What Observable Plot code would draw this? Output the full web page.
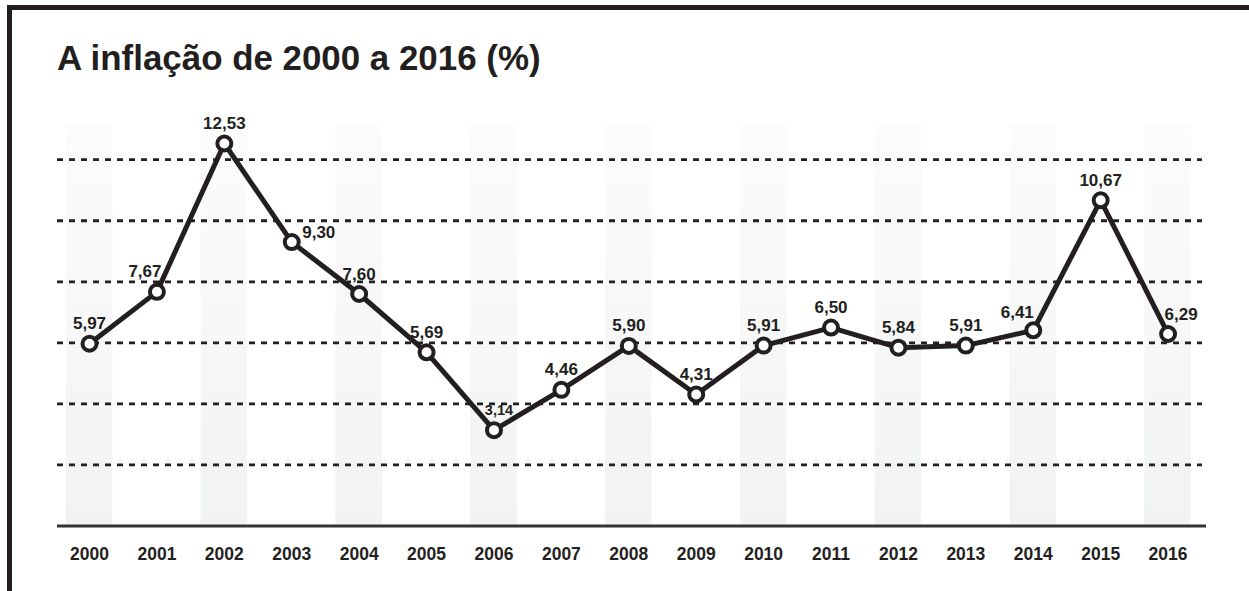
<!DOCTYPE html>
<html>
<head>
<meta charset="utf-8">
<script src="https://cdn.jsdelivr.net/npm/d3@7"></script>
<script src="https://cdn.jsdelivr.net/npm/@observablehq/plot@0.6"></script>
<style>
  html, body { margin: 0; padding: 0; background: #fff; }
  body { width: 1249px; height: 591px; overflow: hidden; position: relative; font-family: "Liberation Sans", Arial, sans-serif; }
  #frame { position: absolute; left: 7px; top: 5px; right: 0; bottom: 0; border-top: 5px solid #231f20; border-left: 5px solid #231f20; z-index: 2; pointer-events: none; }
  #title { position: absolute; left: 57px; top: 40.5px; font-size: 34.9px; line-height: 34.9px; font-weight: bold; color: #231f20; white-space: nowrap; z-index: 3; }
  #chart { position: absolute; left: 0; top: 100px; z-index: 1; }
  #chart svg { background: transparent; }
</style>
</head>
<body>
<div id="frame"></div>
<div id="title">A inflação de 2000 a 2016 (%)</div>
<div id="chart"></div>
<script>
// ---- data ----
const years = [2000, 2001, 2002, 2003, 2004, 2005, 2006, 2007, 2008, 2009, 2010, 2011, 2012, 2013, 2014, 2015, 2016];
const inflation = [5.97, 7.67, 12.53, 9.30, 7.60, 5.69, 3.14, 4.46, 5.90, 4.31, 5.91, 6.50, 5.84, 5.91, 6.41, 10.67, 6.29];
const gridValues = [2, 4, 6, 8, 10, 12];
const shadedYears = years.filter((y, i) => i % 2 === 0);

const data = years.map((year, i) => ({year, value: inflation[i]}));
const fmt = v => v.toFixed(2).replace(".", ",");

// ---- layout ----
const ink = "#231f20";
const xMin = 1999.525, xMax = 2016.57, gridEnd = 2016.51, yTop = 13.12;

// label placement tweaks (layout only)
const special = {
  2001: {dx: -12, dy: -15},
  2003: {dx: 27, dy: -4},
  2006: {dx: 5, dy: -15, size: 14.5},
  2014: {dx: -16, dy: -12},
  2016: {dx: 13, dy: -14}
};
const regular = data.filter(d => !special[d.year]);

function labelMark(rows, dx, dy, size) {
  return Plot.text(rows, {
    x: "year", y: "value", text: d => fmt(d.value),
    dx, dy, lineAnchor: "bottom", fontSize: size || 17, fontWeight: "bold",
    fill: ink, fontFamily: "Liberation Sans, Arial, sans-serif"
  });
}

const defs = () => {
  const g = d3.create("svg:defs");
  const lg = g.append("linearGradient").attr("id", "bandGrad").attr("x1", 0).attr("x2", 0).attr("y1", 0).attr("y2", 1);
  lg.append("stop").attr("offset", "0%").attr("stop-color", "#fcfcfc");
  lg.append("stop").attr("offset", "100%").attr("stop-color", "#f1f2f2");
  return g.node();
};

const marks = [
  defs,
  Plot.rectY(shadedYears, {x1: d => d - 0.345, x2: d => d + 0.345, y1: 0, y2: yTop, fill: "url(#bandGrad)"}),
  Plot.ruleY(gridValues, {x1: xMin, x2: gridEnd, stroke: ink, strokeWidth: 2.8, strokeDasharray: "6,6"}),
  Plot.ruleY([0], {x1: xMin, x2: xMax, stroke: "#333", strokeWidth: 3}),
  Plot.line(data, {x: "year", y: "value", stroke: ink, strokeWidth: 5, strokeLinejoin: "miter"}),
  Plot.dot(data, {x: "year", y: "value", r: 7, fill: "white", stroke: ink, strokeWidth: 4}),
  labelMark(regular, 0, -14.5),
  Plot.text(years, {x: d => d, y: 0, text: d => String(d), dy: 28, fontSize: 17.5, fontWeight: "bold", fill: ink, fontFamily: "Liberation Sans, Arial, sans-serif"})
];
for (const [yr, s] of Object.entries(special)) {
  marks.push(labelMark(data.filter(d => d.year === +yr), s.dx, s.dy, s.size));
}

const chart = Plot.plot({
  width: 1249,
  height: 491,
  marginLeft: 57,
  marginRight: 43,
  marginTop: 25,
  marginBottom: 65.5,
  x: {type: "linear", domain: [xMin, xMax], axis: null},
  y: {type: "linear", domain: [0, yTop], axis: null},
  style: {background: "transparent", fontFamily: "Liberation Sans, Arial, sans-serif"},
  marks
});
document.getElementById("chart").appendChild(chart);
</script>
</body>
</html>
